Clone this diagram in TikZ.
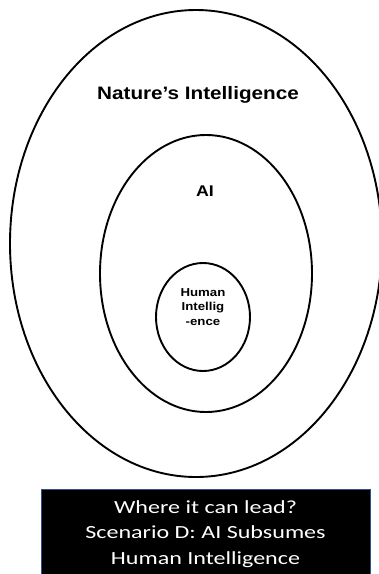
\documentclass[tikz,border=0pt]{standalone}
\usepackage{fontspec}
\usetikzlibrary{shapes.geometric}
\newfontfamily\arialw[FakeStretch=1.15]{Liberation Sans}
\newfontfamily\calw[FakeStretch=1.3]{Carlito}
\definecolor{boxblue}{HTML}{2F528F}
\begin{document}
\begin{tikzpicture}[x=1pt,y=-1pt,
  ring/.style={draw=black,line width=1.9pt,ellipse,inner sep=0pt,outer sep=0pt},
  lbl/.style={align=center,inner sep=0pt}]
\useasboundingbox (0,0) rectangle (379,574);
\clip (0,0) rectangle (379,574);
\node[ring,minimum width=372pt,minimum height=467pt] (outer) at (196,243.5) {};
\node[ring,minimum width=212pt,minimum height=277pt] (middle) at (206,273.5) {};
\node[ring,minimum width=94pt,minimum height=108pt] (inner) at (203,317) {};
\node[lbl,font=\arialw\bfseries\fontsize{18}{21}\selectfont] (nat) at (198,95) {Nature’s Intelligence};
\node[lbl,font=\arialw\bfseries\fontsize{15.5}{18}\selectfont] (ai) at (205,191) {AI};
\node[lbl,font=\arialw\bfseries\fontsize{11.5}{14.5}\selectfont] (hum) at (203,307) {Human\\Intellig\\-ence};
\node[draw=boxblue,line width=1.4pt,fill=black,minimum width=329pt,minimum height=100pt,inner sep=0pt,anchor=north west] (box) at (41,489) {};
\node[lbl,text=white,font=\calw\fontsize{18.5}{25.5}\selectfont] (cap) at (205.5,534) {Where it can lead?\\Scenario D: AI Subsumes\\Human Intelligence};
\end{tikzpicture}
\end{document}
